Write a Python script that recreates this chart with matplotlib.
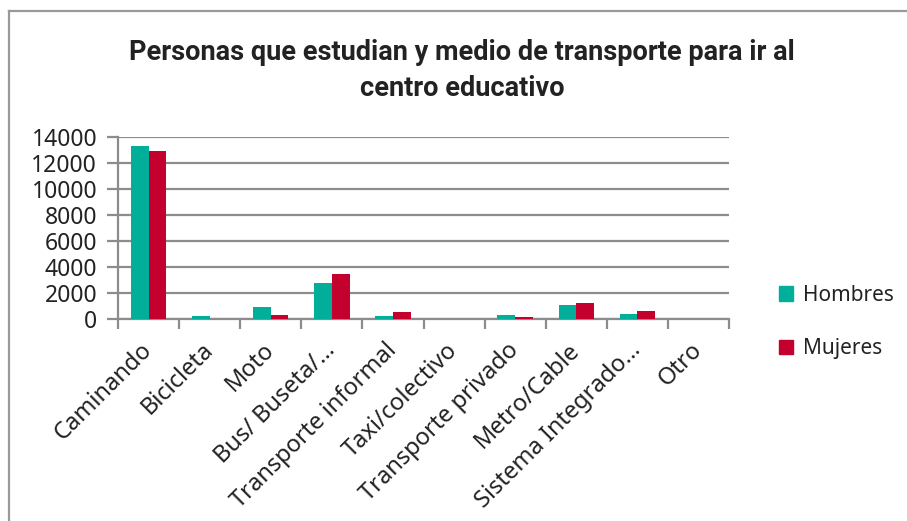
import matplotlib
matplotlib.use("Agg")
import matplotlib.pyplot as plt
import numpy as np
from matplotlib.lines import Line2D
from matplotlib.patches import Patch

categories = ["Caminando", "Bicicleta", "Moto", "Bus/ Buseta/…", "Transporte informal",
              "Taxi/colectivo", "Transporte privado", "Metro/Cable", "Sistema Integrado…", "Otro"]
hombres = [13300, 230, 920, 2760, 230, 0, 310, 1080, 390, 0]
mujeres = [12900, 20, 310, 3450, 540, 0, 160, 1230, 610, 0]
yticks = [0, 2000, 4000, 6000, 8000, 10000, 12000, 14000]

teal = "#00AE9A"
red = "#C4002F"
grid = "#8C8C8C"

plt.rcParams['font.family'] = ['Noto Sans', 'DejaVu Sans']

fig = plt.figure(figsize=(9.07, 5.21), dpi=100)
ax = fig.add_axes([118/907, 1-319/521, (729-118)/907, (319-137)/521])

x = np.arange(len(categories))
w = 0.29
ax.bar(x - w/2, hombres, w, color=teal, zorder=3)
ax.bar(x + w/2, mujeres, w, color=red, zorder=3)

ax.set_xlim(-0.5, len(categories) - 0.5)
ax.set_ylim(0, 14000)
ax.set_yticks(yticks)
ax.set_yticklabels([str(v) for v in yticks], fontsize=16.5, color="#222222")
ax.yaxis.grid(True, color=grid, linewidth=1.6, zorder=0)
ax.set_axisbelow(True)
for s in ["top", "right"]:
    ax.spines[s].set_visible(False)
ax.spines["left"].set_color(grid)
ax.spines["left"].set_linewidth(1.6)
ax.spines["bottom"].set_color(grid)
ax.spines["bottom"].set_linewidth(1.6)
ax.tick_params(axis="y", length=8, width=1.6, color=grid, pad=7)
ax.set_xticks(np.arange(len(categories) + 1) - 0.5, minor=False)
ax.set_xticklabels([])
ax.tick_params(axis="x", which="major", length=7, width=1.6, color=grid)
ax.set_xticks(x, minor=True)
ax.set_xticklabels(categories, minor=True, rotation=45, ha="right", va="center",
                   rotation_mode="anchor", fontsize=17, color="#222222")
ax.tick_params(axis="x", which="minor", length=0, pad=20)

fig.text(462/907, 1-52/521, "Personas que estudian y medio de transporte para ir al",
         ha="center", va="center", fontsize=19.5, fontweight="bold", color="#222222",
         family=["Roboto", "DejaVu Sans"])
fig.text(462/907, 1-89/521, "centro educativo",
         ha="center", va="center", fontsize=19.5, fontweight="bold", color="#222222",
         family=["Roboto", "DejaVu Sans"])

handles = [Patch(color=teal), Patch(color=red)]
leg = fig.legend(handles, ["Hombres", "Mujeres"], loc="center left",
                 bbox_to_anchor=(760/907, 1-322/521), frameon=False, fontsize=15,
                 handlelength=0.7, handleheight=0.7, handletextpad=0.45, labelspacing=1.55)
for t in leg.get_texts():
    t.set_color("#222222")

# outer frame
fig.add_artist(Line2D([9/907, 9/907], [0, 1-11/521], transform=fig.transFigure, color="#999999", linewidth=1.6))
fig.add_artist(Line2D([9/907, 1], [1-11/521, 1-11/521], transform=fig.transFigure, color="#999999", linewidth=1.6))

fig.savefig("out.png", dpi=100)
